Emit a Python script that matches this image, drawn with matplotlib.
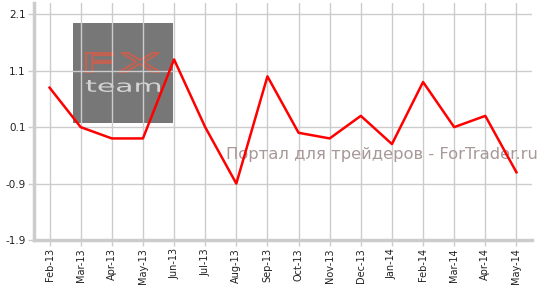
import matplotlib
matplotlib.use("Agg")
import matplotlib.pyplot as plt
from matplotlib.patches import Rectangle, PathPatch
from matplotlib.textpath import TextPath
from matplotlib.font_manager import FontProperties
from matplotlib.transforms import Affine2D, IdentityTransform

months = ["Feb-13", "Mar-13", "Apr-13", "May-13", "Jun-13", "Jul-13", "Aug-13", "Sep-13",
          "Oct-13", "Nov-13", "Dec-13", "Jan-14", "Feb-14", "Mar-14", "Apr-14", "May-14"]
values = [0.8, 0.1, -0.1, -0.1, 1.3, 0.1, -0.9, 1.0, 0.0, -0.1, 0.3, -0.2, 0.9, 0.1, 0.3, -0.7]
yticks = [-1.9, -0.9, 0.1, 1.1, 2.1]

W, H = 543, 287
fig = plt.figure(figsize=(W/100, H/100), dpi=100)
ax = fig.add_axes([34/W, 1-240/H, (532-34)/W, (240-3)/H])

x = list(range(len(months)))
ax.set_xlim(-0.5, len(months) - 0.5)
ax.set_ylim(-1.9, 2.3)
ax.set_xticks(x)
ax.set_xticklabels(months, rotation=90, fontsize=7, color="#222222")
ax.set_yticks(yticks)
ax.set_yticklabels([f"{v:.1f}" for v in yticks], fontsize=7.5, color="#222222")
ax.grid(True, color="#cccccc", linewidth=1, zorder=0.5)
ax.set_axisbelow(True)
ax.tick_params(axis="both", length=4, color="#cccccc", width=1, pad=2)
for s in ["top", "right"]:
    ax.spines[s].set_visible(False)
for s in ["left", "bottom"]:
    ax.spines[s].set_color("#cccccc")
    ax.spines[s].set_linewidth(2.5)

# watermark logo box, beneath the grid
ax.add_patch(Rectangle((73/W, 1-123/H), 100/W, 100/H, transform=fig.transFigure,
                       facecolor="#777777", edgecolor="none", zorder=0.2))

def fit_text(s, x0, x1, ytop, ybot, **kw):
    tp = TextPath((0, 0), s, size=1, prop=FontProperties(family="DejaVu Sans"))
    ext = tp.get_extents()
    sx = (x1 - x0) / ext.width
    sy = (ybot - ytop) / ext.height
    tr = Affine2D().translate(-ext.x0, -ext.y0).scale(sx, sy).translate(x0, H - ybot)
    p = PathPatch(tr.transform_path(tp), transform=IdentityTransform(), zorder=0.3, **kw)
    ax.add_patch(p)

fit_text("FX", 86, 160, 53, 72, facecolor="none", edgecolor="#c8604f", linewidth=1.4)
fit_text("team", 86, 160, 80, 92, facecolor="#d4d4d4", edgecolor="none")

ax.text(382/W, 1-155/H, "Портал для трейдеров - ForTrader.ru", ha="center", va="center",
        fontsize=11.8, color="#a89898", family="DejaVu Sans", zorder=2,
        transform=fig.transFigure)

ax.plot(x, values, color="#ff0000", linewidth=1.8, zorder=3)

fig.savefig("out.png", dpi=100)
